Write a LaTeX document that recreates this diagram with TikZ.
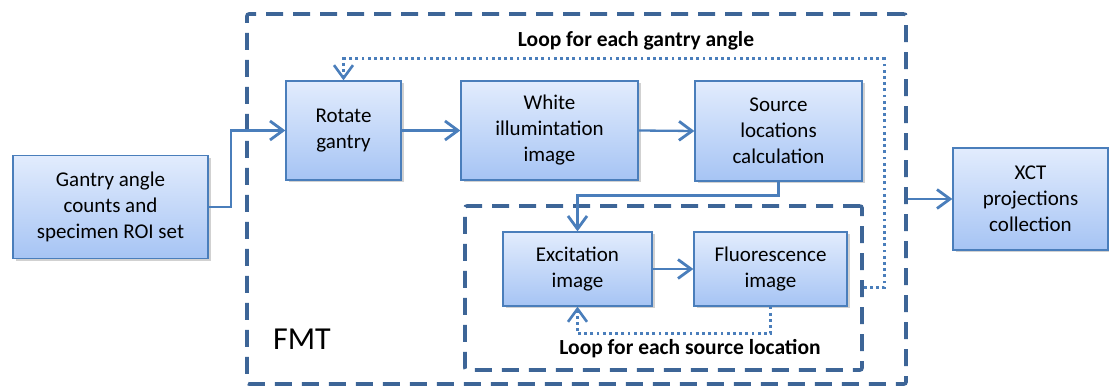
\documentclass[tikz,border=0pt]{standalone}
\usepackage{fontspec}
\setmainfont{Carlito}
\usetikzlibrary{arrows.meta,shadows}
\definecolor{boxtop}{HTML}{E2ECFD}
\definecolor{boxbot}{HTML}{A6C4F4}
\definecolor{boxline}{HTML}{4A7EBB}
\definecolor{frameline}{HTML}{3D6597}
\definecolor{flowline}{HTML}{4A7EBB}
\tikzset{
  procbox/.style={rectangle, draw=boxline, line width=1.3pt,
    top color=boxtop, bottom color=boxbot, align=center,
    font=\fontsize{21}{26}\selectfont, inner sep=2pt,
    drop shadow={shadow xshift=2.5pt, shadow yshift=-2.5pt, opacity=0.3, fill=black!60}},
  loopframe/.style={rectangle, draw=frameline, line width=3.6pt,
    dash pattern=on 17pt off 10pt, rounded corners=2pt, inner sep=0pt},
  flow/.style={draw=flowline, line width=2.3pt,
    -{Straight Barb[length=13pt,width=19pt,line width=2.8pt]}},
  loopflow/.style={draw=flowline, line width=3pt, dash pattern=on 2.8pt off 3.4pt,
    -{Straight Barb[length=13pt,width=19pt,line width=2.6pt]}},
  looplabel/.style={font=\fontsize{21.5}{24}\selectfont\bfseries, inner sep=0pt},
}
\begin{document}
\begin{tikzpicture}[x=1pt,y=-1pt]
\useasboundingbox (0,0) rectangle (1109,387);

% dashed frames
\node[loopframe, minimum width=659pt, minimum height=370pt] (fmt) at (576.5,199) {};
\node[loopframe, minimum width=397pt, minimum height=164pt] (inner) at (663.5,288) {};

% process boxes
\node[procbox, minimum width=195pt, minimum height=103pt] (in) at (110.5,207)
  {Gantry angle\\counts and\\specimen ROI set};
\node[procbox, minimum width=115pt, minimum height=99pt] (rot) at (343.5,130.5)
  {Rotate\\gantry};
\node[procbox, minimum width=177pt, minimum height=99pt] (white) at (549.5,130.5)
  {White\\illumintation\\image};
\node[procbox, minimum width=167pt, minimum height=100pt] (src) at (778.5,131)
  {Source\\locations\\calculation};
\node[procbox, minimum width=149pt, minimum height=74pt] (exc) at (577.5,269)
  {Excitation\\image};
\node[procbox, minimum width=153pt, minimum height=74pt] (flu) at (770.5,269)
  {Fluorescence\\image};
\node[procbox, minimum width=155pt, minimum height=102pt] (xct) at (1030.5,199)
  {XCT\\projections\\collection};

% labels
\node[looplabel] (lga) at (636,41) {Loop for each gantry angle};
\node[looplabel] (lsl) at (690,349) {Loop for each source location};
\node[font=\fontsize{32}{36}\selectfont, inner sep=0pt] (fmtlabel) at (302,339) {FMT};

% solid flow
\draw[flow] (in.east) -- ++(22,0) |- (rot.west);
\draw[flow] (rot.east) -- (white.west);
\draw[flow] (white.east) -- (src.west);
\draw[flow] (src.south) -- ++(0,14) -| (exc.north);
\draw[flow] (exc.east) -- (flu.west);
\draw[flow] (fmt.east |- xct.west) -- (xct.west);

% dotted loops
\coordinate (gturn) at (884,59);
\draw[loopflow] (inner.east) -| (gturn) -| (rot.north);
\coordinate (sturn) at (770.5,334);
\draw[loopflow] (flu.south) -- (sturn) -| (exc.south);
\end{tikzpicture}
\end{document}
